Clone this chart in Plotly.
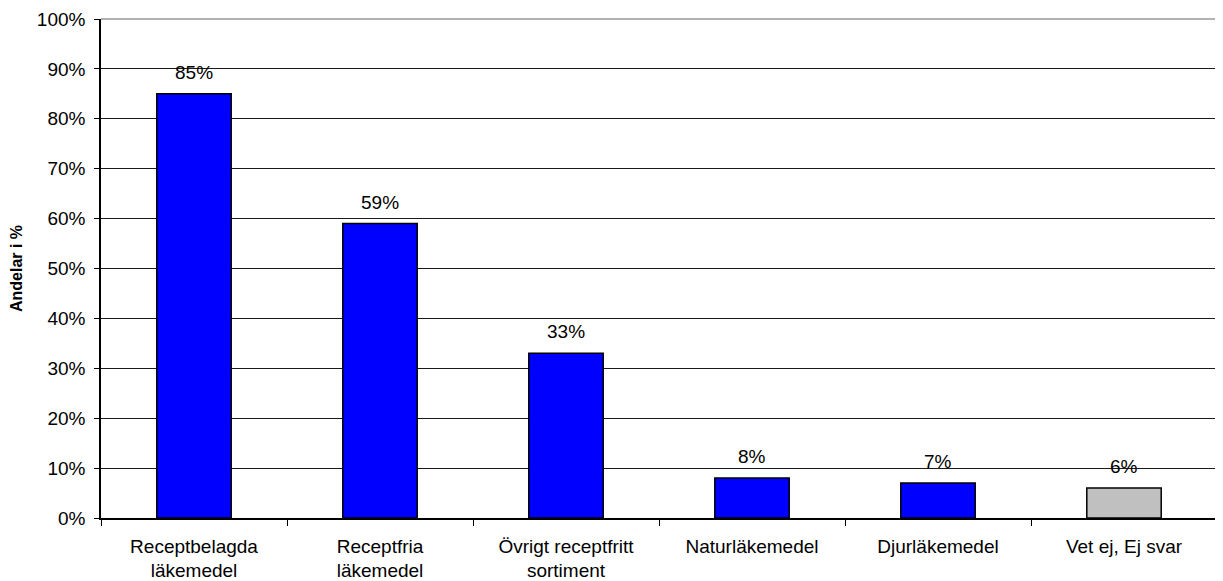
import plotly.graph_objects as go

categories = ["Receptbelagda<br>läkemedel", "Receptfria<br>läkemedel", "Övrigt receptfritt<br>sortiment",
              "Naturläkemedel", "Djurläkemedel", "Vet ej, Ej svar"]
values = [85, 59, 33, 8, 7, 6]
colors = ["#0000FF", "#0000FF", "#0000FF", "#0000FF", "#0000FF", "#C0C0C0"]
y_ticks = list(range(0, 101, 10))

font = "Liberation Sans, Arial, sans-serif"

fig = go.Figure()
fig.add_trace(go.Bar(x=categories, y=values, marker=dict(color=colors, line=dict(color="black", width=1.5)),
                     width=0.4, showlegend=False))

for c, v in zip(categories, values):
    fig.add_annotation(x=c, y=v, text=f"{v}%", showarrow=False, yanchor="bottom", yshift=9,
                       font=dict(size=19, color="black", family=font))

# page body has an 8px margin, so the figure is shrunk by that much
fig.update_layout(
    width=1215, height=573,
    margin=dict(l=93, r=6, t=11, b=63),
    plot_bgcolor="white", paper_bgcolor="white",
    font=dict(family=font, size=19, color="black"),
)
fig.update_yaxes(range=[0, 100], tickvals=y_ticks, ticktext=[f"{t}%" for t in y_ticks],
                 showgrid=True, gridcolor="#1a1a1a", gridwidth=1,
                 showline=True, linecolor="black", linewidth=1.5,
                 ticks="outside", ticklen=5, tickcolor="black", zeroline=False,
                 ticklabelstandoff=5, automargin=False,
                 title=dict(text="<b>Andelar i %</b>", font=dict(size=16), standoff=10))
fig.update_xaxes(showline=True, linecolor="black", linewidth=1.5, tickson="boundaries",
                 ticks="outside", ticklen=6, tickcolor="black", showgrid=False,
                 ticklabelstandoff=10, automargin=False)

# grey frame on top and right
fig.add_shape(type="line", xref="paper", yref="paper", x0=0, x1=1, y0=1, y1=1,
              line=dict(color="#999999", width=1.5))
fig.add_shape(type="line", xref="paper", yref="paper", x0=1, x1=1, y0=0, y1=1,
              line=dict(color="#999999", width=1.5))

fig.write_html("out.html")
